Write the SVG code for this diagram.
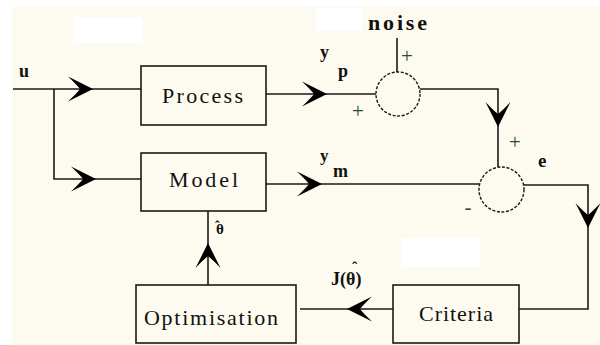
<svg xmlns="http://www.w3.org/2000/svg" width="600" height="345" viewBox="0 0 600 345">
<style>
.box{fill:none;stroke:#1a1a1a;stroke-width:1.6}
.ln{fill:none;stroke:#1a1a1a;stroke-width:1.6}
.sum{fill:none;stroke:#1a1a1a;stroke-width:1.4;stroke-dasharray:3 1.6}
.bl{font-family:"Liberation Serif","Times New Roman",serif;font-size:22px;fill:#111}
.lb{font-family:"Liberation Serif","Times New Roman",serif;font-weight:bold;fill:#111}
.sg{font-family:"Liberation Serif","Times New Roman",serif;font-size:21px;fill:#2e4a2e}
</style>
<defs>
<path id="ah" d="M0,0 L-25,-12.5 Q-16,-4 -13,0 Q-16,4 -25,12.5 Z" fill="#000"/>
</defs>
<rect x="0" y="0" width="600" height="345" fill="#ffffff"/>
<rect x="12" y="7" width="588" height="338" fill="#fdfaef"/>
<rect x="74" y="17" width="69" height="26" fill="#ffffff"/>
<rect x="316" y="8" width="46" height="23" fill="#ffffff"/>
<rect x="401" y="238" width="79" height="29" fill="#ffffff"/>

<g id="connectors">
<path class="ln" d="M13,89 H141"/>
<path class="ln" d="M54,89 V179 H141"/>
<path class="ln" d="M266,94 H376"/>
<path class="ln" d="M397,38 V72"/>
<path class="ln" d="M420,89 H498 V167"/>
<path class="ln" d="M266,184 H479"/>
<path class="ln" d="M524,185 H588 V309 H519"/>
<path class="ln" d="M393,309 H300"/>
<path class="ln" d="M208,285 V211"/>
<use href="#ah" transform="translate(93,89)"/>
<use href="#ah" transform="translate(96,179)"/>
<use href="#ah" transform="translate(327,94)"/>
<use href="#ah" transform="translate(322,184)"/>
<use href="#ah" transform="translate(498,127) rotate(90)"/>
<use href="#ah" transform="translate(588,228) rotate(90)"/>
<use href="#ah" transform="translate(347,309) rotate(180)"/>
<use href="#ah" transform="translate(208,243) rotate(-90)"/>
</g>

<g id="process">
<rect class="box" x="141" y="66" width="125" height="59"/>
<text class="bl" x="162" y="103" textLength="81" lengthAdjust="spacing">Process</text>
</g>
<g id="model">
<rect class="box" x="141" y="153" width="125" height="58"/>
<text class="bl" x="169" y="187" textLength="69" lengthAdjust="spacing">Model</text>
</g>
<g id="optimisation">
<rect class="box" x="136" y="285" width="160" height="58"/>
<text class="bl" x="144" y="325" textLength="134" lengthAdjust="spacing">Optimisation</text>
</g>
<g id="criteria">
<rect class="box" x="393" y="285" width="126" height="58"/>
<text class="bl" x="419" y="321" textLength="74" lengthAdjust="spacing">Criteria</text>
</g>
<g id="sum1">
<circle class="sum" cx="398" cy="94" r="22"/>
</g>
<g id="sum2">
<circle class="sum" cx="501.5" cy="189.5" r="22.5"/>
</g>

<g id="labels">
<text class="lb" x="19" y="77" font-size="18">u</text>
<text class="lb" x="368" y="30" font-size="22" textLength="59" lengthAdjust="spacing">noise</text>
<text class="lb" x="320" y="58" font-size="18">y</text>
<text class="lb" x="338" y="77" font-size="18">p</text>
<text class="lb" x="320" y="161" font-size="17">y</text>
<text class="lb" x="333" y="177" font-size="18">m</text>
<text class="lb" x="538" y="167" font-size="19">e</text>
<text class="sg" x="407" y="63" text-anchor="middle">+</text>
<text class="sg" x="358" y="118" text-anchor="middle" fill="#2f6a2f">+</text>
<text class="sg" x="515" y="149" text-anchor="middle">+</text>
<text class="sg" x="468" y="214" text-anchor="middle">-</text>
<text class="lb" x="216" y="234" font-size="15">θ</text>
<text class="lb" x="215" y="231" font-size="14">ˆ</text>
<text class="lb" x="331" y="285" font-size="18">J(θ)</text>
<text class="lb" x="352" y="273" font-size="16">ˆ</text>
</g>
</svg>
